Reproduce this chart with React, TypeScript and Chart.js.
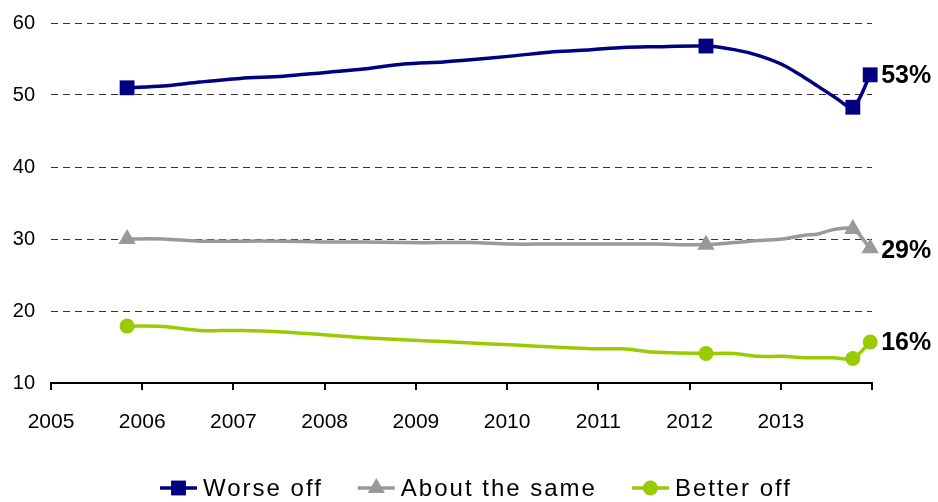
import React, { useEffect, useRef } from "react";
import { Chart, registerables } from "chart.js";

Chart.register(...registerables);

// Survey dates (decimal years)
const surveyDates = [
  2005.834, 2006.23, 2006.636, 2007.075, 2007.547, 2007.986, 2008.425, 2008.864,
  2009.3, 2009.6, 2010.04, 2010.51, 2010.92, 2011.27, 2011.6, 2012.18,
  2012.49, 2012.75, 2013.02, 2013.25, 2013.41, 2013.58, 2013.79, 2013.98,
];

const worseOff = [
  51.0, 51.25, 51.8, 52.3, 52.6, 53.1, 53.6, 54.3,
  54.6, 54.9, 55.4, 56.0, 56.3, 56.6, 56.7, 56.8,
  56.3, 55.5, 54.2, 52.5, 51.2, 49.8, 48.3, 52.8,
];

const aboutTheSame = [
  30.0, 30.0, 29.7, 29.7, 29.7, 29.6, 29.6, 29.5,
  29.5, 29.5, 29.3, 29.3, 29.3, 29.3, 29.3, 29.2,
  29.5, 29.8, 30.0, 30.5, 30.7, 31.3, 31.4, 28.7,
];

const betterOff = [
  17.9, 17.85, 17.3, 17.3, 17.1, 16.7, 16.3, 16.0,
  15.75, 15.55, 15.3, 15.0, 14.75, 14.75, 14.3, 14.1,
  14.1, 13.7, 13.7, 13.5, 13.5, 13.5, 13.4, 15.7,
];

const markerIndices = [0, 15, 22, 23];
const seriesNames = ["Worse off", "About the same", "Better off"];
const endLabels = ["53%", "29%", "16%"];
const yTicks = [10, 20, 30, 40, 50, 60];
const xTickYears = [2005, 2006, 2007, 2008, 2009, 2010, 2011, 2012, 2013];

const COLORS = ["#000080", "#999999", "#99CC00"];
const STYLES = ["rect", "triangle", "circle"];
const RADII = [10.5, 10, 7.5];
const FONT = '"Liberation Sans", Arial, Helvetica, sans-serif';

function drawMarker(ctx: CanvasRenderingContext2D, style: string, x: number, y: number, r: number, color: string) {
  ctx.save();
  ctx.fillStyle = color;
  ctx.beginPath();
  if (style === "rect") {
    const s = Math.SQRT1_2 * r;
    ctx.rect(x - s, y - s, 2 * s, 2 * s);
  } else if (style === "triangle") {
    for (let i = 0; i < 3; i++) {
      const a = (i * 2 * Math.PI) / 3;
      const px = x + Math.sin(a) * r;
      const py = y - Math.cos(a) * r;
      if (i === 0) ctx.moveTo(px, py);
      else ctx.lineTo(px, py);
    }
    ctx.closePath();
  } else {
    ctx.arc(x, y, r, 0, Math.PI * 2);
  }
  ctx.fill();
  ctx.restore();
}

const endLabelPlugin = {
  id: "endLabels",
  afterDatasetsDraw(chart: any) {
    const ctx = chart.ctx as CanvasRenderingContext2D;
    ctx.save();
    ctx.font = `bold 25px ${FONT}`;
    ctx.fillStyle = "#000";
    ctx.textAlign = "left";
    ctx.textBaseline = "middle";
    chart.data.datasets.forEach((_: any, i: number) => {
      const meta = chart.getDatasetMeta(i);
      const pt = meta.data[meta.data.length - 1];
      ctx.fillText(endLabels[i], pt.x + 11, pt.y + (i === 1 ? 3 : 1));
    });
    ctx.restore();
  },
};

const legendPlugin = {
  id: "customLegend",
  afterDraw(chart: any) {
    const ctx = chart.ctx as CanvasRenderingContext2D;
    ctx.save();
    ctx.font = `24px ${FONT}`;
    (ctx as any).letterSpacing = "2px";
    ctx.textBaseline = "middle";
    ctx.textAlign = "left";
    const y = 488;
    let x = 160;
    seriesNames.forEach((name, i) => {
      ctx.strokeStyle = COLORS[i];
      ctx.lineWidth = 3.5;
      ctx.beginPath();
      ctx.moveTo(x, y);
      ctx.lineTo(x + 37, y);
      ctx.stroke();
      drawMarker(ctx, STYLES[i], x + 18.5, y, RADII[i], COLORS[i]);
      ctx.fillStyle = "#000";
      ctx.fillText(name, x + 43, y + 1);
      const w = ctx.measureText(name).width;
      x = x + 43 + w + 35;
    });
    ctx.restore();
  },
};

export default function App() {
  const canvasRef = useRef<HTMLCanvasElement | null>(null);

  useEffect(() => {
    document.body.style.margin = "0";
    const canvas = canvasRef.current;
    if (!canvas) return;

    const series = [worseOff, aboutTheSame, betterOff];
    const chart = new Chart(canvas, {
      type: "line",
      data: {
        datasets: series.map((vals, i) => ({
          label: seriesNames[i],
          data: surveyDates.map((d, j) => ({ x: d, y: vals[j] })),
          borderColor: COLORS[i],
          backgroundColor: COLORS[i],
          borderWidth: 3.5,
          tension: 0.3,
          pointStyle: STYLES[i] as any,
          pointRadius: (c: any) => (markerIndices.includes(c.dataIndex) ? RADII[i] : 0),
          pointHoverRadius: 0,
          pointBorderWidth: 0,
          clip: false as any,
        })),
      },
      options: {
        responsive: false,
        animation: false,
        events: [],
        layout: { padding: { top: 23, right: 66, left: 0, bottom: 0 } },
        plugins: {
          legend: { display: false },
          tooltip: { enabled: false },
          title: { display: false },
        },
        scales: {
          x: {
            type: "linear",
            min: 2005,
            max: 2014,
            afterFit: (s: any) => {
              s.height = 119;
              s.paddingLeft = 0;
              s.paddingRight = 0;
            },
            afterBuildTicks: (s: any) => {
              s.ticks = [...xTickYears, 2014].map((v) => ({ value: v }));
            },
            ticks: {
              autoSkip: false,
              maxRotation: 0,
              padding: 20,
              color: "#000",
              font: { family: FONT, size: 21 },
              callback: (v: any) => (xTickYears.includes(Number(v)) ? String(v) : ""),
            },
            grid: {
              drawOnChartArea: false,
              drawTicks: true,
              tickLength: 7,
              color: "#000",
              lineWidth: 2,
            },
            border: { display: true, color: "#000", width: 2 },
          },
          y: {
            min: 10,
            max: 60,
            afterFit: (s: any) => {
              s.width = 51;
              s.paddingTop = 0;
              s.paddingBottom = 0;
            },
            afterBuildTicks: (s: any) => {
              s.ticks = yTicks.map((v) => ({ value: v }));
            },
            ticks: {
              padding: 16,
              color: "#000",
              font: { family: FONT, size: 20 },
            },
            grid: {
              drawTicks: false,
              color: "#333333",
              lineWidth: 1,
            },
            border: { display: false, dash: [7, 5] },
          },
        },
      },
      plugins: [endLabelPlugin, legendPlugin],
    });

    return () => chart.destroy();
  }, []);

  return (
    <div style={{ width: 938, height: 502, background: "#fff" }}>
      <canvas ref={canvasRef} width={938} height={502} style={{ display: "block" }} />
    </div>
  );
}
